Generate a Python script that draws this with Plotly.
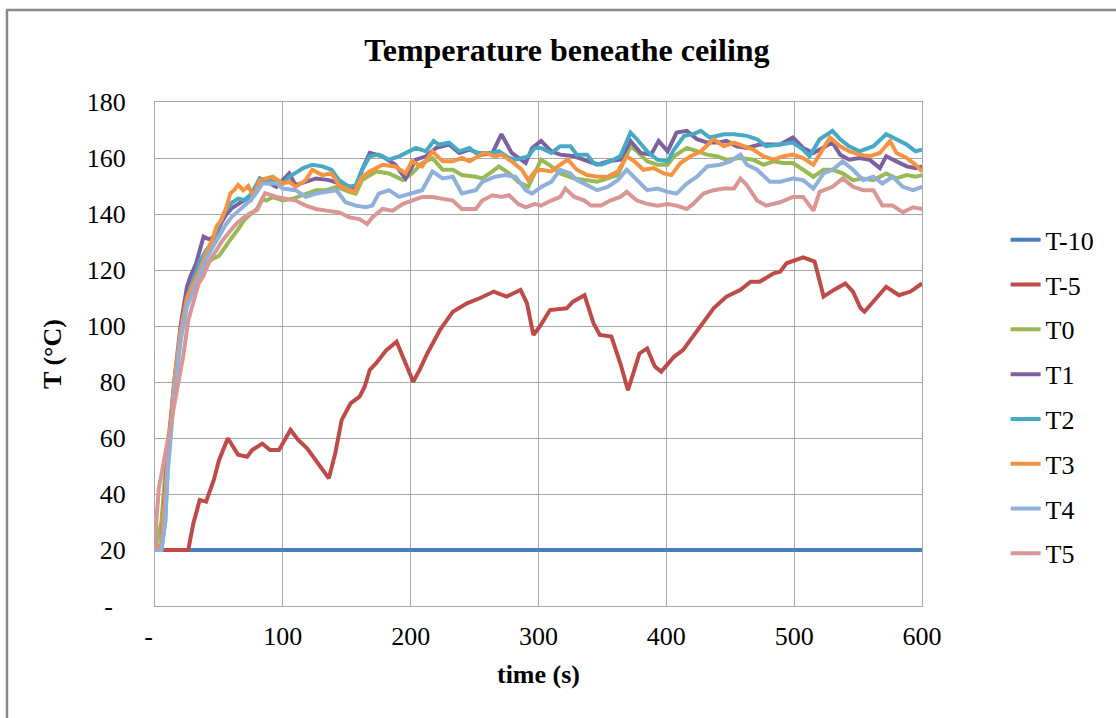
import plotly.graph_objects as go

# ---------------- data ----------------
series_names = ["T-10", "T-5", "T0", "T1", "T2", "T3", "T4", "T5"]

t_m10 = [0, 600]
v_m10 = [20, 20]

t_m5 = [0,26,30,35,40,46,50,57,65,72,76,84,90,97,106,112,119,127,136,141,
        146,153,160,164,168,173,181,189,194,202,207,213,223,233,244,254,265,275,286,291,
        296,301,309,322,327,336,343,348,357,364,370,379,385,391,396,406,413,421,429,437,
        447,458,466,473,484,489,494,507,516,520,523,531,540,546,552,555,562,572,582,591,600]
v_m5 = [20,20,29.5,37.9,37.3,45,52,59.9,54,53.3,55.7,58,55.7,55.7,62.9,59.3,56.3,51,45.6,54.5,
        66.4,72.4,74.8,78.3,84.3,86.7,91.4,94.4,89,80.1,84.3,90.2,98.6,105.1,108.1,109.9,112.3,110.5,112.9,108.1,
        96.8,99.8,105.7,106.3,108.7,111,101,96.8,96.2,86.7,77.1,90.2,92,85.5,83.7,89,91.4,96.2,101,106.3,
        110.5,112.9,115.8,115.8,118.8,119.4,122.4,124.5,123,116.4,110.5,112.9,115.2,112.3,106.3,105.1,108.7,114,111,112.3,115.2]

t_0 = [0,5,10,15,20,25,30,35,40,45,50,55,60,65,70,75,80,84,87,92,
       100,108,118,126,134,142,152,157,162,173,183,194,201,209,217,225,233,240,251,256,
       264,269,277,284,292,299,302,310,317,328,338,346,354,362,372,377,385,393,401,406,
       416,424,432,440,447,458,468,476,484,491,499,507,515,523,530,538,546,554,562,572,
       580,588,595,600]
v_0 = [20,30,58,78,95,108,113,118,122,124,125,128.5,131.5,134.5,138,140,142,145.6,144.8,146,
       144.8,145.5,147.3,148.5,148.5,149.7,147.9,147.3,152.1,155.2,154.5,152.1,154.5,158.2,160,155.8,155.8,153.9,153.3,152.7,
       155.2,157,154.5,151.5,149.7,157,159.4,157,154.5,152.7,152.1,151.5,152.7,153.9,164.2,162.4,158.8,157.6,157.6,160.6,
       163.6,162.4,161.2,160.6,159.4,160,159.4,157.6,158.8,158.2,158.2,155.8,153.3,155.8,155.8,154.5,152.1,152.7,152.1,154.5,
       152.7,153.9,153.3,153.9]

t_1 = [0,5,10,15,20,25,28,32,35,38,42,45,48,52,56,60,65,70,75,82,
       95,105,110,126,136,144,152,157,162,168,178,188,196,204,212,220,230,238,246,256,
       264,271,279,290,295,302,310,317,328,338,346,354,364,372,380,388,394,401,408,416,
       424,432,440,447,455,463,473,481,489,499,507,515,523,530,536,543,551,559,567,572,
       580,588,595,600]
v_1 = [20,22,55,80,100,114,118,122,127,131.9,131,131.5,133,137,140,142,143.5,145,145,152.7,
       149.7,154.5,150.3,152.7,152.1,150.9,149.7,149.1,155.8,161.8,160.6,157.6,152.7,159.4,160.6,163.6,164.8,161.8,163,161.2,
       161.8,168.5,161.8,158.2,163.6,166.1,162.4,161.2,160.6,158.8,157.6,158.8,159.4,166.1,161.8,161.2,166.1,162.4,169.1,169.7,
       166.7,165.5,165.5,166.1,164.2,163.6,164.8,164.8,164.8,167.3,163.6,161.8,163.6,165.5,161.2,159.4,160,159.4,156.4,160.6,
       158.8,157,156.4,157]

t_2 = [0,5,8,10,15,20,25,30,35,40,45,50,55,60,65,70,75,82,100,105,
       116,123,131,138,144,152,157,162,168,175,183,191,199,204,212,218,222,230,238,246,
       251,256,264,269,277,282,292,297,302,310,317,325,330,338,343,349,356,364,372,377,
       385,393,401,406,414,421,427,434,445,453,463,471,478,489,499,507,512,520,530,536,
       543,551,562,572,580,588,595,600]
v_2 = [20,20,30,50,78,98,110,116,123,127,130,136,141,144,145.5,145,147,152.7,150.9,153.3,
       156.4,157.6,157,155.8,152.1,149.7,150.3,155.8,160.6,161.2,159.4,160.6,162.4,163.6,162.4,166.1,164.8,165.5,162.4,163.6,
       161.8,161.8,161.8,162.4,160,159.4,160.6,163.6,163.6,161.8,164.2,164.2,161.2,161.2,158.2,157.6,158.8,160.6,169.1,166.7,
       162.4,159.4,158.8,163,167.9,168.5,169.7,167.3,168.5,168.5,167.9,166.7,164.2,164.8,165.5,163,160.6,166.7,169.7,166.7,
       164.2,162.4,164.2,168.5,166.7,164.8,162.4,163]

t_3 = [0,5,10,15,20,25,30,35,40,45,48,52,56,59,62,65,69,73,77,82,
       87,92,100,105,110,118,123,131,138,144,152,156,162,168,178,188,196,201,209,217,
       225,233,240,246,253,258,266,271,279,287,292,297,302,310,317,323,330,338,346,354,
       362,369,375,382,390,398,404,411,419,427,437,445,453,460,468,476,484,491,499,507,
       515,523,528,536,543,551,559,567,575,580,588,595,600]
v_3 = [20,22,52,80,98,110,115,120,126,131,135.5,138,142.6,147.4,148.6,150.4,148.5,150,146.2,152.1,
       152.7,153.3,150.9,151.5,149.7,152.1,155.8,153.9,154.5,150.3,148.5,147.9,153.3,155.2,157.6,157,154.5,158.8,157,162.4,
       158.8,158.8,160,158.8,160.6,161.8,160.6,161.2,158.8,155.8,152.1,155.2,155.8,155.2,157.6,159.4,155.8,153.9,153.3,153.3,
       155.2,160.6,158.8,155.8,156.4,154.5,153.9,158.2,160.6,162.4,166.7,164.2,165.5,164.2,163,160.6,159.4,160.6,161.2,160,
       157.6,163.6,167.3,164.2,162.4,161.2,160.6,161.8,166.1,161.8,160,157.6,155.2]

t_4 = [0,5,8,10,15,20,25,30,35,40,45,50,55,60,65,70,75,80,84,95,
       100,110,118,126,134,142,149,157,165,170,175,183,191,201,209,217,225,233,240,251,
       256,266,274,282,290,295,302,310,317,325,330,338,346,354,362,369,377,385,393,401,
       408,416,424,432,442,450,458,463,471,481,489,499,507,515,523,530,538,546,554,562,
       569,577,585,593,600]
v_4 = [20,20,30,48,75,95,107,113,118,124,128,132,136,139,141,143,145,148,150.9,150.9,
       149.1,148.5,146.1,147.3,147.9,148.5,144.2,143,142.4,143,147.3,148.5,146.1,147.3,148.5,155.2,152.7,153.3,147.3,148.5,
       151.5,153.3,153.9,153.3,148.5,147.3,149.7,151.5,155.8,154.5,152.1,150.3,148.5,149.7,152.1,155.8,152.1,148.5,149.1,147.9,
       147.3,150.9,153.3,157,157.6,158.8,161.2,157.6,155.8,151.5,151.5,152.7,152.1,149.1,154.5,155.8,158.8,155.8,152.1,153.3,
       150.9,153.3,149.7,148.5,149.7]

t_5 = [0,1,3,5,10,14,18,22,26,30,34,38,43,48,53,58,64,69,74,80,
       86,95,103,110,118,126,134,144,152,160,166,170,178,186,194,201,209,217,225,233,
       240,251,256,264,271,277,284,290,297,302,310,317,321,328,336,341,349,356,364,369,
       377,385,393,401,408,416,421,429,437,445,453,458,463,471,478,489,499,507,515,520,
       530,538,546,554,562,569,577,585,593,600]
v_5 = [20,30,42,47,58,70,80,89,102,109,115,118,123.6,127,130.7,133.5,136.7,138.5,140.2,141.4,
       147.4,146.1,145.5,144.8,143,141.8,141.2,140.6,138.8,138.2,136.4,138.8,141.8,141.2,143.6,144.8,146.1,146.1,145.5,144.8,
       141.8,141.8,144.8,146.7,146.1,146.7,143.6,142.4,143.6,143,144.8,146.1,149.1,146.1,144.8,143,143,144.8,146.1,147.9,
       144.8,143.6,143,143.6,143,141.8,143.6,147.3,148.5,149.1,149.1,152.7,150.3,144.8,143,144.2,146.1,146.1,141.2,147.9,
       149.7,152.7,149.7,148.5,148.5,143,143,140.6,142.4,141.8]

y_tickvals = [0, 20, 40, 60, 80, 100, 120, 140, 160, 180]
y_ticktext = ["-\u00a0\u00a0", "20", "40", "60", "80", "100", "120", "140", "160", "180"]
x_tickvals = [0, 100, 200, 300, 400, 500, 600]
x_ticktext = ["-\u00a0\u00a0", "100", "200", "300", "400", "500", "600"]

colors = ["#4A7EBB", "#BE4B48", "#98B954", "#7D60A0", "#46AAC5", "#F69240", "#8EB0DA", "#D99694"]

times = [t_m10, t_m5, t_0, t_1, t_2, t_3, t_4, t_5]
vals = [v_m10, v_m5, v_0, v_1, v_2, v_3, v_4, v_5]
for a, b in zip(times, vals):
    assert len(a) == len(b), (len(a), len(b))

FONT = "Liberation Serif, Times New Roman, serif"
GRID = "#A6A6A6"

fig = go.Figure()
for name, tt, vv, c in zip(series_names, times, vals, colors):
    fig.add_trace(go.Scatter(x=tt, y=vv, name=name, mode="lines",
                             line=dict(color=c, width=4),
                             legendgroup=name))

fig.update_layout(
    width=1116, height=718,
    margin=dict(l=155, r=194, t=102, b=112),
    paper_bgcolor="white", plot_bgcolor="white",
    font=dict(family=FONT, size=26, color="black"),
    title=dict(text="<b>Temperature beneathe ceiling</b>", x=0.508, xanchor="center",
               y=1 - 50 / 718, yanchor="middle", yref="container",
               font=dict(family=FONT, size=32, color="black")),
    showlegend=True,
    legend=dict(x=1.109, xanchor="left", y=0.415, yanchor="middle",
                font=dict(family=FONT, size=26, color="black"),
                tracegroupgap=8, bgcolor="rgba(0,0,0,0)"),
    shapes=[dict(type="rect", xref="paper", yref="paper",
                 x0=(7 - 155) / 767, x1=(1140 - 155) / 767,
                 y0=(606 - 740) / 504, y1=(606 - 10) / 504,
                 line=dict(color="#898989", width=2.5), layer="below")],
)
fig.update_xaxes(range=[0, 600], tickvals=x_tickvals, ticktext=x_ticktext,
                 showgrid=True, gridcolor=GRID, gridwidth=1,
                 showline=True, linecolor=GRID, linewidth=1, mirror=True,
                 zeroline=False, ticks="", ticklabelstandoff=7,
                 title=dict(text="<b>time (s)</b>", standoff=14,
                            font=dict(family=FONT, size=26)))
fig.update_yaxes(range=[0, 180], tickvals=y_tickvals, ticktext=y_ticktext,
                 showgrid=True, gridcolor=GRID, gridwidth=1,
                 showline=True, linecolor=GRID, linewidth=1, mirror=True,
                 zeroline=False, ticks="", ticklabelstandoff=23,
                 title=dict(text="<b>T (°C)</b>", standoff=17,
                            font=dict(family=FONT, size=26)))

fig.write_html("out.html")
